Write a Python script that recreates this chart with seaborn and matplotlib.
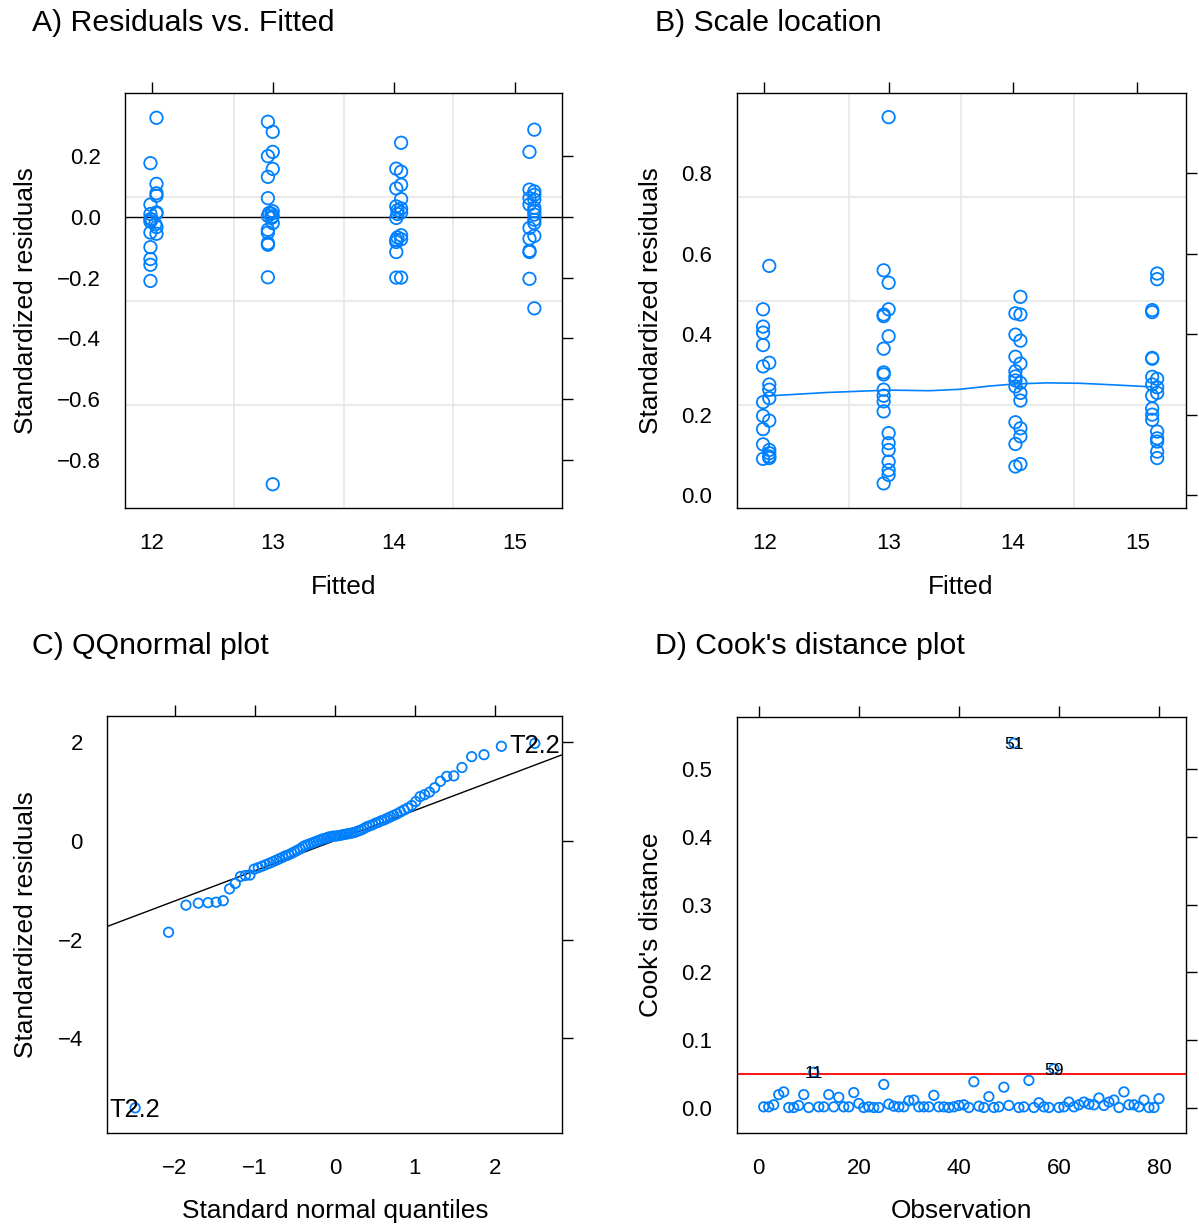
import statistics

import matplotlib
matplotlib.use("Agg")
import matplotlib.pyplot as plt
import numpy as np
import pandas as pd
import seaborn as sns

# ---------------------------------------------------------------- data
# A) residuals against fitted values
fitted_rvf = [
    12.04, 11.99, 12.04, 12.04, 12.04, 11.99, 12.04, 12.04, 11.99, 11.99,
    12.00, 11.99, 12.03, 12.04, 11.99, 12.04, 11.99, 11.99, 11.99, 11.99,
    12.96, 13.00, 13.00, 12.96, 13.00, 12.96, 12.96, 13.00, 12.97, 12.99,
    12.96, 13.00, 12.99, 13.00, 12.96, 12.96, 12.96, 12.96, 12.96, 13.00,
    14.06, 14.02, 14.06, 14.06, 14.02, 14.06, 14.02, 14.06, 14.03, 14.06,
    14.03, 14.02, 14.06, 14.03, 14.06, 14.02, 14.02, 14.02, 14.02, 14.06,
    15.16, 15.12, 15.12, 15.16, 15.16, 15.12, 15.16, 15.12, 15.16, 15.16,
    15.16, 15.16, 15.16, 15.12, 15.16, 15.12, 15.12, 15.12, 15.12, 15.16,
]
resid_rvf = [
    0.325, 0.176, 0.108, 0.077, 0.069, 0.040, 0.014, 0.011, 0.009, -0.008,
    -0.009, -0.016, -0.025, -0.034, -0.052, -0.056, -0.100, -0.139, -0.158, -0.211,
    0.312, 0.279, 0.213, 0.199, 0.157, 0.131, 0.061, 0.018, 0.012, 0.010,
    0.003, 0.001, -0.004, -0.021, -0.043, -0.052, -0.087, -0.092, -0.199, -0.879,
    0.243, 0.158, 0.148, 0.105, 0.093, 0.058, 0.034, 0.027, 0.021, 0.014,
    0.009, -0.004, -0.061, -0.068, -0.074, -0.076, -0.083, -0.116, -0.200, -0.200,
    0.286, 0.213, 0.089, 0.083, 0.072, 0.061, 0.056, 0.040, 0.029, 0.018,
    0.007, -0.010, -0.021, -0.037, -0.063, -0.072, -0.112, -0.116, -0.204, -0.301,
]

# B) scale-location
fitted_sl = [
    12.04, 11.99, 11.99, 11.99, 11.99, 12.04, 11.99, 12.04, 12.04, 12.04,
    11.99, 11.99, 12.04, 11.99, 11.99, 12.04, 12.04, 12.04, 11.99, 12.04,
    13.00, 12.96, 13.00, 13.00, 12.96, 12.96, 13.00, 12.96, 12.96, 12.96,
    12.96, 12.96, 12.96, 12.96, 13.00, 13.00, 13.00, 13.00, 13.00, 13.00, 12.96,
    14.06, 14.02, 14.06, 14.02, 14.06, 14.02, 14.06, 14.02, 14.02, 14.02,
    14.06, 14.02, 14.06, 14.06, 14.02, 14.06, 14.06, 14.02, 14.06, 14.02,
    15.16, 15.16, 15.12, 15.12, 15.12, 15.12, 15.12, 15.16, 15.12, 15.16,
    15.16, 15.12, 15.12, 15.12, 15.12, 15.16, 15.16, 15.16, 15.16, 15.16,
]
scale_sl = [
    0.570, 0.462, 0.419, 0.404, 0.373, 0.329, 0.320, 0.275, 0.262, 0.241,
    0.231, 0.197, 0.185, 0.164, 0.126, 0.112, 0.104, 0.096, 0.090, 0.092,
    0.940, 0.559, 0.528, 0.462, 0.449, 0.445, 0.395, 0.364, 0.305, 0.300,
    0.262, 0.247, 0.233, 0.208, 0.154, 0.129, 0.112, 0.083, 0.062, 0.050, 0.029,
    0.493, 0.452, 0.449, 0.399, 0.384, 0.344, 0.327, 0.308, 0.295, 0.285,
    0.279, 0.270, 0.254, 0.235, 0.181, 0.166, 0.146, 0.127, 0.077, 0.071,
    0.551, 0.537, 0.460, 0.455, 0.341, 0.339, 0.294, 0.289, 0.275, 0.268,
    0.254, 0.247, 0.215, 0.200, 0.187, 0.158, 0.141, 0.133, 0.108, 0.092,
]
smooth_x = [12.00, 12.50, 13.00, 13.33, 13.57, 13.81, 14.00, 14.27, 14.54, 14.81, 15.12]
smooth_y = [0.246, 0.255, 0.261, 0.2595, 0.263, 0.271, 0.276, 0.279, 0.278, 0.274, 0.269]

# C) sorted standardized residuals for the normal QQ plot
qq_sample = [
    -5.41, -1.85, -1.30, -1.26, -1.25, -1.24, -1.21, -0.97, -0.86, -0.72,
    -0.70, -0.69, -0.57, -0.54, -0.51, -0.48, -0.45, -0.42, -0.39, -0.36,
    -0.33, -0.30, -0.28, -0.25, -0.22, -0.19, -0.16, -0.12, -0.09, -0.07,
    -0.05, -0.03, -0.01, 0.01, 0.03, 0.05, 0.06, 0.08, 0.09, 0.10,
    0.10, 0.11, 0.12, 0.13, 0.14, 0.15, 0.16, 0.17, 0.19, 0.21,
    0.23, 0.26, 0.29, 0.31, 0.33, 0.36, 0.38, 0.41, 0.43, 0.46,
    0.49, 0.52, 0.55, 0.59, 0.63, 0.67, 0.72, 0.80, 0.90, 0.94,
    0.99, 1.08, 1.21, 1.31, 1.32, 1.49, 1.71, 1.75, 1.92, 1.98,
]
qq_line_intercept = 0.01
qq_line_slope = 0.612
qq_labels = {0: "T2.2", 79: "T2.2"}

# D) Cook's distance per observation
cooks_d = [
    0.002, 0.002, 0.005, 0.020, 0.024, 0.001, 0.001, 0.004, 0.020, 0.001,
    0.053, 0.002, 0.002, 0.020, 0.002, 0.016, 0.002, 0.002, 0.023, 0.007,
    0.001, 0.002, 0.001, 0.001, 0.035, 0.006, 0.003, 0.002, 0.002, 0.011,
    0.012, 0.002, 0.002, 0.002, 0.019, 0.002, 0.002, 0.001, 0.002, 0.004,
    0.005, 0.001, 0.039, 0.003, 0.001, 0.017, 0.001, 0.002, 0.031, 0.004,
    0.538, 0.001, 0.002, 0.041, 0.001, 0.008, 0.002, 0.001, 0.058, 0.001,
    0.002, 0.009, 0.002, 0.005, 0.009, 0.006, 0.005, 0.015, 0.004, 0.009,
    0.012, 0.001, 0.024, 0.005, 0.005, 0.002, 0.012, 0.001, 0.001, 0.014,
]
cooks_cutoff = 0.05
cooks_labels = [11, 51, 59]

# ---------------------------------------------------------------- style
sns.set_style("white")
plt.rcParams["font.family"] = ["Liberation Sans", "DejaVu Sans"]
plt.rcParams["axes.unicode_minus"] = True
plt.rcParams["text.color"] = "black"
plt.rcParams["axes.labelcolor"] = "black"
plt.rcParams["xtick.color"] = "black"
plt.rcParams["ytick.color"] = "black"

BLUE = "#0080FF"
GRID = "#E6E6E6"
W, H = 1199, 1228
TICK_FS = 16
LABEL_FS = 18.9
MARKER_LW = 1.3

fig = plt.figure(figsize=(W / 100, H / 100), dpi=100)


def add_ax(left, top, right, bottom):
    return fig.add_axes([left / W, 1 - bottom / H, (right - left) / W, (bottom - top) / H])


def frame(ax, xticks, yticks, xfmt, yfmt, xlim, ylim):
    ax.set_xlim(*xlim)
    ax.set_ylim(*ylim)
    ax.set_xticks(xticks)
    ax.set_yticks(yticks)
    ax.set_xticklabels([xfmt.format(v).replace("-", "\u2212") for v in xticks])
    ax.set_yticklabels([yfmt.format(v).replace("-", "\u2212") for v in yticks])
    for s in ax.spines.values():
        s.set_visible(True)
        s.set_color("black")
        s.set_linewidth(1.0)
    ax.tick_params(which="both", direction="out", length=8, width=1.0, color="black",
                   top=True, right=True, labeltop=False, labelright=False,
                   labelsize=TICK_FS, labelcolor="black")
    ax.tick_params(axis="x", pad=10)
    ax.tick_params(axis="y", pad=9.5)
    ax.grid(False)
    ax.set_xlabel("")
    ax.set_ylabel("")


def quarter_grid(ax):
    for f in (0.25, 0.5, 0.75):
        ax.plot([f, f], [0, 1], transform=ax.transAxes, color=GRID, lw=1.2, zorder=0)
        ax.plot([0, 1], [f, f], transform=ax.transAxes, color=GRID, lw=1.2, zorder=0)


def title(x, y, s):
    fig.text(x / W, 1 - y / H, s, fontsize=21.8, ha="left", va="baseline", color="black")


def xlabel(x, y, s):
    fig.text(x / W, 1 - y / H, s, fontsize=LABEL_FS, ha="center", va="baseline", color="black")


def ylabel(x, y, s):
    fig.text(x / W, 1 - y / H, s, fontsize=LABEL_FS, rotation=90, rotation_mode="anchor",
             ha="center", va="baseline", color="black")


# ---------------------------------------------------------------- A
axA = add_ax(125, 93.3, 562.3, 508.3)
quarter_grid(axA)
dfA = pd.DataFrame({"fitted": fitted_rvf, "resid": resid_rvf})
sns.scatterplot(data=dfA, x="fitted", y="resid", ax=axA, s=80, marker="o",
                facecolor="none", edgecolor=BLUE, linewidth=MARKER_LW, legend=False, zorder=3)
axA.axhline(0, color="black", lw=1.0, zorder=2)
frame(axA, [12, 13, 14, 15], [-0.8, -0.6, -0.4, -0.2, 0.0, 0.2], "{:d}", "{:.1f}",
      (11.780, 15.391), (-0.958, 0.4055))
title(32, 31, "A) Residuals vs. Fitted")
xlabel(343.5, 594, "Fitted")
ylabel(33, 301, "Standardized residuals")

# ---------------------------------------------------------------- B
axB = add_ax(736.7, 93.3, 1186, 508.3)
quarter_grid(axB)
dfB = pd.DataFrame({"fitted": fitted_sl, "scale": scale_sl})
sns.scatterplot(data=dfB, x="fitted", y="scale", ax=axB, s=80, marker="o",
                facecolor="none", edgecolor=BLUE, linewidth=MARKER_LW, legend=False, zorder=3)
sns.lineplot(x=smooth_x, y=smooth_y, ax=axB, color=BLUE, lw=1.2, sort=True,
             estimator=None, legend=False, zorder=4)
frame(axB, [12, 13, 14, 15], [0.0, 0.2, 0.4, 0.6, 0.8], "{:d}", "{:.1f}",
      (11.778, 15.392), (-0.033, 0.9993))
title(655, 31, "B) Scale location")
xlabel(961, 594, "Fitted")
ylabel(658, 301, "Standardized residuals")

# ---------------------------------------------------------------- C
axC = add_ax(107.3, 716, 561.7, 1133.3)
n = len(qq_sample)
nd = statistics.NormalDist()
theoretical = [nd.inv_cdf((i + 0.5) / n) for i in range(n)]
dfC = pd.DataFrame({"theoretical": theoretical, "sample": qq_sample})
sns.scatterplot(data=dfC, x="theoretical", y="sample", ax=axC, s=46, marker="o",
                facecolor="none", edgecolor=BLUE, linewidth=MARKER_LW, legend=False, zorder=3)
axC.axline((0, qq_line_intercept), slope=qq_line_slope, color="black", lw=1.0, zorder=2)
for idx, lab in qq_labels.items():
    axC.text(theoretical[idx], qq_sample[idx], lab, fontsize=18.3, ha="center",
             va="center_baseline", color="black", zorder=5)
frame(axC, [-2, -1, 0, 1, 2], [-4, -2, 0, 2], "{:d}", "{:d}",
      (-2.846, 2.834), (-5.925, 2.534))
title(32, 654, "C) QQnormal plot")
xlabel(335, 1218, "Standard normal quantiles")
ylabel(33, 925, "Standardized residuals")

# ---------------------------------------------------------------- D
axD = add_ax(736.7, 716.7, 1186, 1133.3)
obs = np.arange(1, len(cooks_d) + 1)
dfD = pd.DataFrame({"obs": obs, "cooks": cooks_d})
sns.scatterplot(data=dfD, x="obs", y="cooks", ax=axD, s=46, marker="o",
                facecolor="none", edgecolor=BLUE, linewidth=MARKER_LW, legend=False, zorder=3)
axD.axhline(cooks_cutoff, color="#FF0000", lw=1.3, zorder=2)
for k in cooks_labels:
    axD.text(k, cooks_d[k - 1], str(k), fontsize=12.5, ha="center",
             va="center_baseline", color="black", zorder=5)
frame(axD, [0, 20, 40, 60, 80], [0.0, 0.1, 0.2, 0.3, 0.4, 0.5], "{:d}", "{:.1f}",
      (-4.4, 85.4), (-0.037, 0.577))
title(655, 654, "D) Cook's distance plot")
xlabel(961, 1218, "Observation")
ylabel(658, 925, "Cook's distance")

fig.savefig("out.png", dpi=100)
